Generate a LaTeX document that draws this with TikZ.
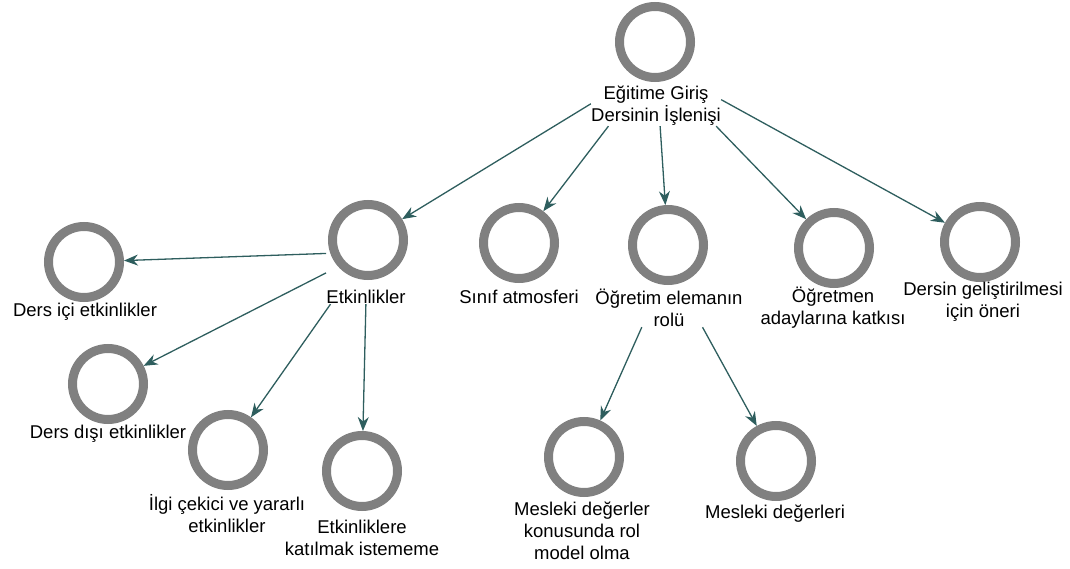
\documentclass[tikz,border=0pt]{standalone}
\usepackage{fontspec}
\setmainfont{Liberation Sans}
\usetikzlibrary{arrows.meta,fit}
\definecolor{ringgray}{RGB}{128,128,128}
\definecolor{linkteal}{RGB}{46,94,94}

\begin{document}
\begin{tikzpicture}[%
x=1pt, y=-1pt,
ring/.style={circle, draw=ringgray, line width=9pt, minimum size=71pt, inner sep=0pt},
txt/.style={align=center, inner sep=0pt, font=\fontsize{18.5}{22}\selectfont},
grp/.style={inner sep=0pt},
link/.style={draw=linkteal, line width=1.3pt, -{Stealth[length=14pt,width=11pt]}},
]
\useasboundingbox (0,0) rectangle (1070,569);
%% root;
\node[ring] (top) at (655,42) {};
\node[txt] (top-txt) at (656,106) {Eğitime Giriş\\Dersinin İşlenişi};
\node[grp, fit=(top)(top-txt)] (top-grp) {};
%% first level;
\node[ring] (etk) at (368,240) {};
\node[txt] (etk-txt) at (366,297) {Etkinlikler};
\node[grp, fit=(etk)(etk-txt)] (etk-grp) {};
\node[ring] (sin) at (519,243) {};
\node[txt] (sin-txt) at (519,297) {Sınıf atmosferi};
\node[ring] (ogr) at (668,245) {};
\node[txt] (ogr-txt) at (669,308) {Öğretim elemanın\\rolü};
\node[grp, fit=(ogr)(ogr-txt)] (ogr-grp) {};
\node[ring] (ady) at (834,248) {};
\node[txt] (ady-txt) at (833,308) {Öğretmen\\adaylarına katkısı};
\node[ring] (ger) at (980,242) {};
\node[txt] (ger-txt) at (983,302) {Dersin geliştirilmesi\\için öneri};
%% activities;
\node[ring] (dic) at (84,262) {};
\node[txt] (dic-txt) at (85,312) {Ders içi etkinlikler};
\node[ring] (ddi) at (108,384) {};
\node[txt] (ddi-txt) at (108,434) {Ders dışı etkinlikler};
\node[ring] (ilg) at (228,450) {};
\node[txt] (ilg-txt) at (227,514) {İlgi çekici ve yararlı\\etkinlikler};
\node[ring] (kat) at (362,471) {};
\node[txt] (kat-txt) at (362,538) {Etkinliklere\\katılmak istememe};
%% role;
\node[ring] (rol) at (584,457) {};
\node[txt] (rol-txt) at (582,531) {Mesleki değerler\\konusunda rol\\model olma};
\node[ring] (mdg) at (776,461) {};
\node[txt] (mdg-txt) at (775,514) {Mesleki değerleri};
%% links;
\draw[link] (top-grp) -- (etk);
\draw[link] (top-grp) -- (sin);
\draw[link] (top-grp) -- (ogr);
\draw[link] (top-grp) -- (ady);
\draw[link] (top-grp) -- (ger);
\draw[link] (etk-grp) -- (dic);
\draw[link] (etk-grp) -- (ddi);
\draw[link] (etk-grp) -- (ilg);
\draw[link] (etk-grp) -- (kat);
\draw[link] (ogr-grp) -- (rol);
\draw[link] (ogr-grp) -- (mdg);
\end{tikzpicture}
\end{document}
